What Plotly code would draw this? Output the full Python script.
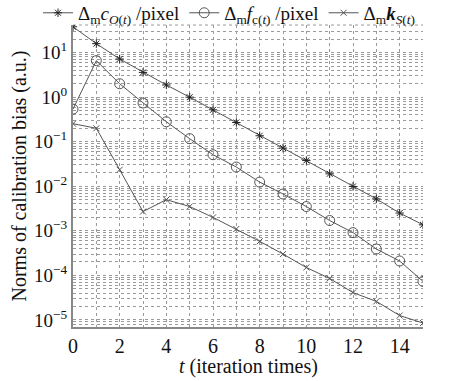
import plotly.graph_objects as go

t = list(range(16))
c_O = [38, 15.9, 7.2, 3.6, 1.88, 1.0, 0.52, 0.27, 0.136, 0.072, 0.038, 0.019, 0.0099, 0.0052, 0.0025, 0.00136]
f_c = [0.54, 6.6, 2.0, 0.74, 0.28, 0.117, 0.051, 0.027, 0.0124, 0.0067, 0.0035, 0.0017, 0.00091, 0.00039, 0.00021, 7.3e-5]
k_S = [0.254, 0.2, 0.0235, 0.0027, 0.005, 0.0035, 0.002, 0.0011, 0.00058, 0.0003, 0.00015, 8.5e-5, 4.1e-5, 2.6e-5, 1.25e-5, 8.5e-6]

names = [
    "Δ<sub>m</sub><i>c</i><sub><i>O</i>(<i>t</i>)</sub> /pixel",
    "Δ<sub>m</sub><i>f</i><sub>c(<i>t</i>)</sub> /pixel",
    "Δ<sub>m</sub><b><i>k</i></b><sub><i>S</i>(<i>t</i>)</sub>",
]
x_ticks = [0, 2, 4, 6, 8, 10, 12, 14]
y_tickvals = [1e1, 1e0, 1e-1, 1e-2, 1e-3, 1e-4, 1e-5]
y_ticktext = ["10<sup>1</sup>", "10<sup>0</sup>", "10<sup>−1</sup>", "10<sup>−2</sup>",
              "10<sup>−3</sup>", "10<sup>−4</sup>", "10<sup>−5</sup>"]
x_title = "<i>t</i> (iteration times)"

line_col = "#555555"
grid_col = "#9a9a9a"
font = "Liberation Serif, Times New Roman, serif"

fig = go.Figure()
fig.add_trace(go.Scatter(x=t, y=c_O, name=names[0], mode="lines+markers",
                         line=dict(color=line_col, width=1),
                         marker=dict(symbol="asterisk-open", size=7, color="#222", line=dict(width=1, color="#222"))))
fig.add_trace(go.Scatter(x=t, y=f_c, name=names[1], mode="lines+markers",
                         line=dict(color=line_col, width=1),
                         marker=dict(symbol="circle-open", size=10, color=line_col, line=dict(width=1, color=line_col))))
fig.add_trace(go.Scatter(x=t, y=k_S, name=names[2], mode="lines+markers",
                         line=dict(color=line_col, width=1),
                         marker=dict(symbol="x-thin-open", size=6, color=line_col, line=dict(width=1, color=line_col))))

fig.update_layout(
    width=453, height=381,
    margin=dict(l=73, r=30, t=25, b=54, autoexpand=False),
    paper_bgcolor="white", plot_bgcolor="white",
    font=dict(family=font, size=18, color="#111"),
    showlegend=True,
    legend=dict(orientation="h", x=-0.1, y=1.04, xanchor="left", yanchor="middle",
                font=dict(family=font, size=19), bgcolor="rgba(0,0,0,0)",
                itemwidth=30, tracegroupgap=0),
    xaxis=dict(range=[0, 15], tickvals=x_ticks, showgrid=False, zeroline=False,
               showline=True, linecolor="#888", linewidth=2, ticks="",
               tickfont=dict(size=20),
               minor=dict(dtick=1, tick0=0, showgrid=True, gridcolor=grid_col, griddash="dot", gridwidth=1)),
    yaxis=dict(type="log", range=[-5.16, 1.62], tickvals=y_tickvals, ticktext=y_ticktext,
               showgrid=True, gridcolor=grid_col, griddash="dot", gridwidth=1, zeroline=False,
               showline=True, linecolor="#888", linewidth=2, ticks="",
               tickfont=dict(size=19),
               minor=dict(dtick="D1", showgrid=True, gridcolor=grid_col, griddash="dot", gridwidth=1),
               title=dict(text="Norms of calibration bias (a.u.)", font=dict(size=20), standoff=2)),
)
fig.add_annotation(text=x_title, xref="paper", yref="paper", x=0.5, y=-0.13,
                   xanchor="center", yanchor="middle", showarrow=False, font=dict(size=20))
fig.add_shape(type="line", xref="paper", yref="paper", x0=0, x1=1, y0=1, y1=1,
              line=dict(color=grid_col, width=1, dash="dot"), layer="below")

fig.write_html("out.html", config={"displayModeBar": False},
               post_script="document.body.style.margin='0';document.body.style.overflow='hidden';")
